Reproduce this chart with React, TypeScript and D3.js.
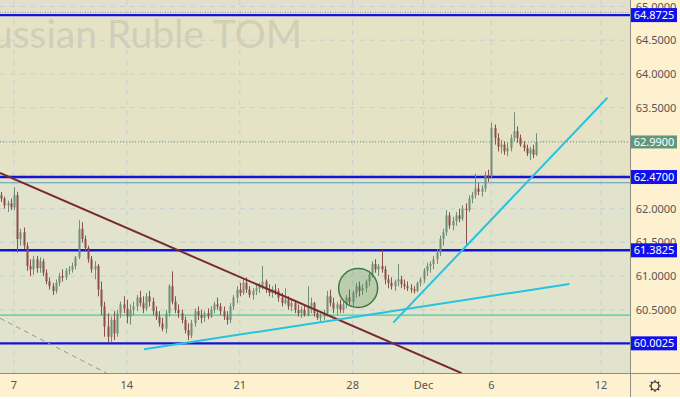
import React from "react";
import * as d3 from "d3";

// 2h-ish bars, [open, high, low, close]
const bars: [number, number, number, number][] = [
  [62.20, 62.25, 62.10, 62.15], [62.15, 62.18, 62.00, 62.05], [62.05, 62.12, 61.95, 62.08], [62.08, 62.15, 61.98, 62.02],
  [62.02, 62.32, 61.98, 62.20], [62.20, 62.25, 61.35, 61.55], [61.55, 61.70, 61.45, 61.65], [61.65, 61.72, 61.40, 61.45],
  [61.45, 61.50, 61.08, 61.15], [61.15, 61.25, 61.00, 61.10], [61.10, 61.30, 61.02, 61.25], [61.25, 61.30, 61.05, 61.12],
  [61.12, 61.28, 61.05, 61.22], [61.22, 61.26, 61.00, 61.05], [61.05, 61.10, 60.88, 60.92], [60.92, 60.98, 60.80, 60.85],
  [60.85, 60.90, 60.72, 60.78], [60.78, 60.95, 60.74, 60.90], [60.90, 61.05, 60.85, 61.00], [61.00, 61.10, 60.92, 60.98],
  [60.98, 61.12, 60.94, 61.08], [61.08, 61.15, 61.02, 61.10], [61.10, 61.20, 61.05, 61.15], [61.15, 61.30, 61.10, 61.28],
  [61.28, 61.83, 61.25, 61.70], [61.70, 61.80, 61.50, 61.55], [61.55, 61.60, 61.38, 61.42], [61.42, 61.45, 61.20, 61.25],
  [61.25, 61.30, 61.05, 61.10], [61.10, 61.22, 60.95, 61.15], [61.15, 61.18, 60.70, 60.80], [60.80, 60.92, 60.42, 60.55],
  [60.55, 60.62, 60.10, 60.25], [60.25, 60.45, 60.02, 60.10], [60.10, 60.40, 60.02, 60.35], [60.35, 60.48, 60.05, 60.15],
  [60.15, 60.50, 60.10, 60.45], [60.45, 60.62, 60.38, 60.58], [60.58, 60.70, 60.45, 60.52], [60.52, 60.65, 60.30, 60.40],
  [60.40, 60.58, 60.28, 60.50], [60.50, 60.62, 60.42, 60.55], [60.55, 60.72, 60.48, 60.68], [60.68, 60.78, 60.55, 60.60],
  [60.60, 60.70, 60.45, 60.52], [60.52, 60.75, 60.48, 60.70], [60.70, 60.78, 60.55, 60.62], [60.62, 60.68, 60.42, 60.48],
  [60.48, 60.55, 60.35, 60.40], [60.40, 60.48, 60.25, 60.30], [60.30, 60.38, 60.18, 60.22], [60.22, 60.50, 60.15, 60.45],
  [60.45, 60.88, 60.40, 60.85], [60.85, 61.07, 60.58, 60.62], [60.62, 60.70, 60.45, 60.50], [60.50, 60.58, 60.38, 60.45],
  [60.45, 60.50, 60.30, 60.35], [60.35, 60.40, 60.15, 60.20], [60.20, 60.30, 60.05, 60.12], [60.12, 60.35, 60.08, 60.30],
  [60.30, 60.52, 60.25, 60.48], [60.48, 60.55, 60.35, 60.42], [60.42, 60.50, 60.30, 60.38], [60.38, 60.48, 60.32, 60.45],
  [60.45, 60.52, 60.36, 60.40], [60.40, 60.55, 60.38, 60.50], [60.50, 60.62, 60.45, 60.58], [60.58, 60.68, 60.50, 60.55],
  [60.55, 60.60, 60.42, 60.48], [60.48, 60.55, 60.35, 60.40], [60.40, 60.48, 60.28, 60.35], [60.35, 60.60, 60.30, 60.55],
  [60.55, 60.72, 60.50, 60.68], [60.68, 60.85, 60.60, 60.80], [60.80, 60.90, 60.70, 60.75], [60.75, 60.95, 60.72, 60.90],
  [60.90, 60.98, 60.75, 60.80], [60.80, 60.85, 60.68, 60.72], [60.72, 60.82, 60.65, 60.78], [60.78, 60.88, 60.72, 60.82],
  [60.82, 60.90, 60.75, 60.85], [60.85, 61.15, 60.80, 60.92], [60.92, 60.95, 60.75, 60.80], [60.80, 60.88, 60.70, 60.75],
  [60.75, 60.85, 60.68, 60.80], [60.80, 60.88, 60.72, 60.78], [60.78, 60.82, 60.62, 60.68], [60.68, 60.75, 60.55, 60.60],
  [60.60, 60.82, 60.58, 60.65], [60.65, 60.70, 60.50, 60.55], [60.55, 60.65, 60.48, 60.60], [60.60, 60.64, 60.45, 60.50],
  [60.50, 60.58, 60.40, 60.45], [60.45, 60.55, 60.38, 60.50], [60.50, 60.56, 60.40, 60.42], [60.42, 60.85, 60.40, 60.55],
  [60.55, 60.68, 60.45, 60.60], [60.60, 60.62, 60.40, 60.45], [60.45, 60.50, 60.35, 60.38], [60.38, 60.45, 60.33, 60.40],
  [60.40, 60.50, 60.35, 60.45], [60.45, 60.78, 60.40, 60.70], [60.70, 60.80, 60.55, 60.60], [60.60, 60.68, 60.45, 60.52],
  [60.52, 60.62, 60.42, 60.58], [60.58, 60.65, 60.45, 60.50], [60.50, 60.62, 60.45, 60.58], [60.58, 60.72, 60.52, 60.68],
  [60.68, 60.80, 60.58, 60.62], [60.62, 60.78, 60.55, 60.75], [60.75, 60.90, 60.68, 60.85], [60.85, 60.92, 60.70, 60.78],
  [60.78, 60.88, 60.72, 60.82], [60.82, 60.95, 60.76, 60.92], [60.92, 61.08, 60.85, 61.02], [61.02, 61.22, 60.98, 61.18],
  [61.18, 61.25, 61.05, 61.10], [61.10, 61.18, 61.00, 61.15], [61.15, 61.39, 61.05, 61.10], [61.10, 61.15, 60.88, 60.95],
  [60.95, 61.02, 60.82, 60.90], [60.90, 60.98, 60.80, 60.85], [60.85, 60.95, 60.78, 60.92], [60.92, 61.18, 60.85, 60.95],
  [60.95, 61.00, 60.82, 60.88], [60.88, 60.95, 60.80, 60.85], [60.85, 60.92, 60.78, 60.82], [60.82, 60.88, 60.75, 60.80],
  [60.80, 60.85, 60.74, 60.78], [60.78, 60.92, 60.76, 60.90], [60.90, 60.98, 60.85, 60.95], [60.95, 61.12, 60.90, 61.08],
  [61.08, 61.20, 61.00, 61.15], [61.15, 61.22, 61.05, 61.18], [61.18, 61.30, 61.10, 61.25], [61.25, 61.40, 61.18, 61.35],
  [61.35, 61.60, 61.30, 61.55], [61.55, 61.70, 61.45, 61.65], [61.65, 61.98, 61.60, 61.90], [61.90, 61.95, 61.70, 61.75],
  [61.75, 61.88, 61.68, 61.82], [61.82, 61.95, 61.75, 61.90], [61.90, 62.00, 61.80, 61.85], [61.85, 62.05, 61.82, 62.00],
  [62.00, 62.08, 61.45, 61.98], [61.98, 62.20, 61.95, 62.15], [62.15, 62.25, 62.08, 62.20], [62.20, 62.52, 62.15, 62.30],
  [62.30, 62.38, 62.20, 62.25], [62.25, 62.35, 62.18, 62.30], [62.30, 62.55, 62.25, 62.50], [62.50, 62.58, 62.40, 62.48],
  [62.48, 63.28, 62.45, 63.20], [63.20, 63.25, 62.95, 63.05], [63.05, 63.12, 62.85, 62.92], [62.92, 63.02, 62.82, 62.95],
  [62.95, 63.00, 62.80, 62.85], [62.85, 62.98, 62.78, 62.90], [62.90, 63.10, 62.85, 63.05], [63.05, 63.43, 63.00, 63.15],
  [63.15, 63.22, 62.98, 63.05], [63.05, 63.10, 62.92, 62.95], [62.95, 63.00, 62.85, 62.90], [62.90, 62.95, 62.78, 62.82],
  [62.82, 62.92, 62.72, 62.88], [62.88, 62.95, 62.75, 62.80], [62.80, 63.12, 62.78, 62.99],
];

const tickBars = [4, 39, 74, 109, 131, 152, 186];
const tickLabels = ["7", "14", "21", "28", "Dec", "6", "12"];
const priceTicks = [60, 60.5, 61, 61.5, 62, 62.5, 63, 63.5, 64, 64.5, 65];
const axisPrices = [60.5, 61, 61.5, 62, 63.5, 64, 64.5, 65];
const levels = [64.8725, 62.47, 61.3825, 60.0025];
const lastPrice = 62.99;
const supportPrice = 60.42;
const zoneTop = 64.91;
const zoneBottom = 62.385;

// drawings, as [bar, price] end points
const brownLine = [[-0.34, 62.53], [142.8, 59.56]];
const cyanLow = [[44.3, 59.914], [176.2, 60.883]];
const cyanSteep = [[121.6, 60.309], [188.0, 63.647]];
const grayDashed = [[-0.34, 60.374], [32.7, 59.56]];
const circleCenter = [110.7, 60.823];

const W = 680;
const H = 399;
const PR = 630; // right edge of plot
const PB = 373; // bottom edge of plot

export default function App() {
  const x = d3.scaleLinear().domain([4, 186]).range([14, 601]);
  const y = d3.scaleLinear().domain([60, 65]).range([343.5, 6.5]);
  const fmt = d3.format(".4f");
  const line = d3.line<number[]>().x((d) => x(d[0])).y((d) => y(d[1]));
  const font = "'Noto Sans', sans-serif";

  const upColor = "#6f8f78";
  const downColor = "#8c4f4a";

  return (
    <svg width={W} height={H} style={{ position: "absolute", left: 0, top: 0 }} fontFamily={font}>
      <defs>
        <clipPath id="plot">
          <rect x={0} y={0} width={PR} height={PB} />
        </clipPath>
      </defs>
      <rect x={0} y={0} width={W} height={H} fill="#fdf1d0" />
      <rect x={0} y={H - 2} width={W} height={2} fill="#ffffff" />
      <g clipPath="url(#plot)">
        <rect x={0} y={0} width={PR} height={PB} fill="#e1e3cc" />
        <rect x={0} y={0} width={PR} height={y(zoneTop)} fill="#e2e0cd" />
        <rect x={0} y={y(zoneTop)} width={PR} height={y(zoneBottom) - y(zoneTop)} fill="#e6e2c6" />
        <text x={302} y={48} textAnchor="end" fontSize={39} fontFamily="Lato, sans-serif" fill="#d2cfb6">
          Russian Ruble TOM
        </text>
        {priceTicks.map((p) => (
          <line key={"h" + p} x1={0} x2={PR} y1={y(p)} y2={y(p)} stroke="#c9cfcf" strokeDasharray="5 5" />
        ))}
        {tickBars.map((b) => (
          <line key={"v" + b} x1={x(b)} x2={x(b)} y1={0} y2={PB} stroke="#c9cfcf" strokeDasharray="5 5" />
        ))}
        <line x1={0} x2={PR} y1={y(zoneTop)} y2={y(zoneTop)} stroke="#9a9a90" strokeDasharray="1 1.5" />
        <line x1={0} x2={PR} y1={y(zoneBottom)} y2={y(zoneBottom)} stroke="#5a9cc0" strokeWidth={1} />
        <line x1={0} x2={PR} y1={y(supportPrice)} y2={y(supportPrice)} stroke="#45cf98" strokeWidth={1.3} />
        <line x1={0} x2={PR} y1={y(lastPrice)} y2={y(lastPrice)} stroke="#5a9a84" strokeDasharray="1 2" />
        {levels.map((p) => (
          <line key={"l" + p} x1={0} x2={PR} y1={y(p)} y2={y(p)} stroke="#1414d6" strokeWidth={2.4} />
        ))}
        <path d={line(grayDashed) || ""} stroke="#9a9a92" strokeWidth={1} strokeDasharray="5 4" fill="none" />
        {bars.map((b, i) => {
          const [o, h, l, c] = b;
          const col = c >= o ? upColor : downColor;
          const cx = Math.round(x(i)) + 0.5;
          const top = y(Math.max(o, c));
          const bh = Math.max(1, y(Math.min(o, c)) - top);
          return (
            <g key={"b" + i}>
              <line x1={cx} x2={cx} y1={y(h)} y2={y(l)} stroke={col} strokeWidth={1} />
              <rect x={cx - 1} y={top} width={2} height={bh} fill={col} />
            </g>
          );
        })}
        <path d={line(brownLine) || ""} stroke="#7a2a2c" strokeWidth={2} fill="none" />
        <path d={line(cyanLow) || ""} stroke="#25c3e2" strokeWidth={2} fill="none" />
        <path d={line(cyanSteep) || ""} stroke="#25c3e2" strokeWidth={2} fill="none" />
        <circle cx={x(circleCenter[0])} cy={y(circleCenter[1])} r={19.5} fill="rgba(80,140,80,0.25)" stroke="#3e7a48" strokeWidth={1.5} />
      </g>
      {/* axes */}
      <line x1={PR + 0.5} x2={PR + 0.5} y1={0} y2={H - 2} stroke="#8e8e86" />
      <line x1={0} x2={W} y1={PB + 0.5} y2={PB + 0.5} stroke="#8e8e86" />
      {axisPrices.map((p) => (
        <text key={"t" + p} x={656} y={y(p) + 4} textAnchor="middle" fontSize={11} fill="#555">
          {fmt(p)}
        </text>
      ))}
      {tickBars.map((b, i) => (
        <text key={"x" + b} x={x(b)} y={389} textAnchor="middle" fontSize={11} fill="#555">
          {tickLabels[i]}
        </text>
      ))}
      {levels.map((p) => (
        <g key={"lb" + p}>
          <rect x={631} y={y(p) - 7} width={46} height={14} fill="#1010ee" />
          <text x={654} y={y(p) + 4} textAnchor="middle" fontSize={11} fill="#fff">
            {fmt(p)}
          </text>
        </g>
      ))}
      <rect x={631} y={y(lastPrice) - 6.5} width={46} height={13} fill="#62987a" />
      <text x={654} y={y(lastPrice) + 4} textAnchor="middle" fontSize={11} fill="#fff">
        {fmt(lastPrice)}
      </text>
      {/* settings gear */}
      <g transform="translate(655,386)" stroke="#333" fill="none">
        <circle r={4} strokeWidth={1.2} />
        {d3.range(8).map((k) => {
          const a = (k * Math.PI) / 4;
          return <line key={k} x1={Math.cos(a) * 4} y1={Math.sin(a) * 4} x2={Math.cos(a) * 6} y2={Math.sin(a) * 6} strokeWidth={1.2} />;
        })}
      </g>
    </svg>
  );
}
